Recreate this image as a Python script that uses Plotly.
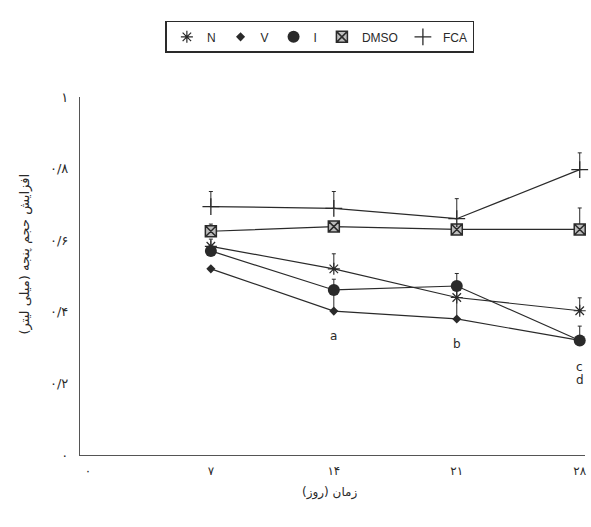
import plotly.graph_objects as go

days = [7, 14, 21, 28]
x_tick_vals = [0, 7, 14, 21, 28]
x_tick_text = ["۰", "۷", "۱۴", "۲۱", "۲۸"]
y_tick_vals = [0, 0.2, 0.4, 0.6, 0.8, 1.0]
y_tick_text = ["۰", "۰/۲", "۰/۴", "۰/۶", "۰/۸", "۱"]
x_title = "زمان (روز)"
y_title = "افزایش حجم پنجه (میلی لیتر)"

N_vals = [0.583, 0.52, 0.44, 0.403]
N_err = [0.02, 0.042, 0.03, 0.036]
V_vals = [0.52, 0.402, 0.38, 0.32]
V_err = [0.0, 0.06, 0.06, 0.0]
I_vals = [0.57, 0.461, 0.472, 0.32]
I_err = [0.0, 0.03, 0.035, 0.04]
DMSO_vals = [0.625, 0.638, 0.63, 0.63]
DMSO_err = [0.02, 0.0, 0.0, 0.06]
FCA_vals = [0.694, 0.689, 0.66, 0.797]
FCA_err = [0.042, 0.047, 0.056, 0.047]

sig_labels = ["a", "b", "c", "d"]
sig_x = [14, 21, 28, 28]
sig_y = [0.333, 0.311, 0.247, 0.21]

ink = "#2a2a2a"

series = [
    ("N", N_vals, N_err, dict(symbol="asterisk-open", size=10, color=ink, line=dict(width=1.2, color=ink))),
    ("V", V_vals, V_err, dict(symbol="diamond", size=7, color=ink, line=dict(width=0))),
    ("I", I_vals, I_err, dict(symbol="circle", size=12, color=ink, line=dict(width=0))),
    ("DMSO", DMSO_vals, DMSO_err, dict(symbol="square-x", size=11, color="#bdbdbd", line=dict(width=1.5, color=ink))),
    ("FCA", FCA_vals, FCA_err, dict(symbol="cross-thin-open", size=12, color=ink, line=dict(width=1.3, color=ink))),
]

fig = go.Figure()
for name, vals, err, marker in series:
    fig.add_trace(go.Scatter(
        x=days, y=vals, name=name, mode="lines+markers", showlegend=False,
        line=dict(color=ink, width=1.2), cliponaxis=False,
        marker=marker,
        error_y=dict(type="data", symmetric=False, array=err, arrayminus=[0]*len(err),
                     color=ink, thickness=1, width=2),
    ))
for name, vals, err, marker in series:
    fig.add_trace(go.Scatter(
        x=[None], y=[None], name=name, mode="markers", marker=marker, showlegend=True,
    ))

for lab, xx, yy in zip(sig_labels, sig_x, sig_y):
    fig.add_annotation(x=xx, y=yy, text=lab, showarrow=False,
                       font=dict(size=12, color=ink, family="DejaVu Sans"))

# axis titles placed as annotations to match the reference's positions
fig.add_annotation(xref="paper", yref="paper", x=0.495, y=-0.106, text=x_title,
                   xanchor="center", yanchor="middle",
                   showarrow=False, font=dict(size=12, color=ink))
fig.add_annotation(xref="paper", yref="paper", x=-0.109, y=0.56, text=y_title,
                   xanchor="center", yanchor="middle",
                   textangle=-90, showarrow=False, font=dict(size=13, color=ink))

fig.update_layout(
    width=591, height=527,
    margin=dict(l=80, r=6, t=97, b=72, autoexpand=False),
    paper_bgcolor="white", plot_bgcolor="white",
    font=dict(family="DejaVu Sans", color=ink, size=12),
    legend=dict(orientation="h", x=0.475, xanchor="center", y=1.168, yanchor="middle",
                bordercolor=ink, borderwidth=1.5, font=dict(size=12, family="Liberation Sans"),
                itemwidth=30, tracegroupgap=0),
    showlegend=True,
)
fig.update_xaxes(range=[-0.45, 28.3], tickvals=x_tick_vals, ticktext=x_tick_text,
                 showgrid=False, zeroline=False, showline=True, linecolor="#555", linewidth=1.2,
                 ticks="", ticklabelstandoff=4, automargin=False,
                 tickfont=dict(size=12))
fig.update_yaxes(range=[0, 1.0], tickvals=y_tick_vals, ticktext=y_tick_text,
                 showgrid=False, zeroline=False, showline=True, linecolor="#555", linewidth=1.2,
                 ticks="", ticklabelstandoff=8, automargin=False,
                 tickfont=dict(size=13))

fig.write_html("out.html", config={"displayModeBar": False},
               post_script="document.body.style.margin='0';document.body.style.overflow='hidden';")
